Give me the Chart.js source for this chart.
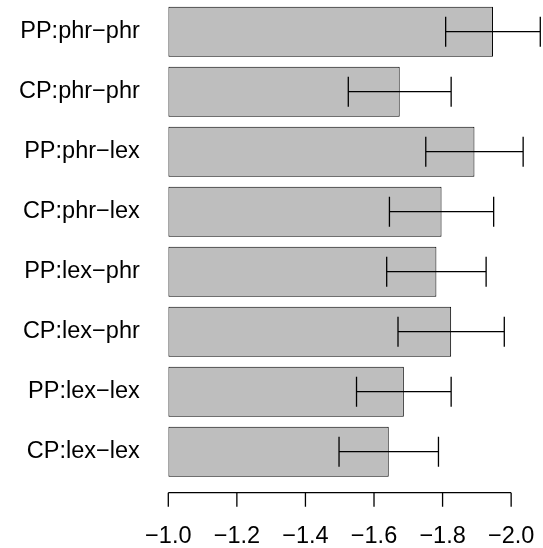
<!DOCTYPE html>
<html>
<head>
<meta charset="utf-8">
<script src="https://cdn.jsdelivr.net/npm/chart.js@4.4.0/dist/chart.umd.min.js"></script>
<style>
    html, body { margin: 0; padding: 0; background: #fff; }
    #wrap { width: 543px; height: 548px; }
</style>
</head>
<body>
<div id="wrap"><canvas id="chart"></canvas></div>
<script>
    var conditions = ['PP:phr−phr', 'CP:phr−phr', 'PP:phr−lex', 'CP:phr−lex', 'PP:lex−phr', 'CP:lex−phr', 'PP:lex−lex', 'CP:lex−lex'];
    var means = [-1.947, -1.675, -1.893, -1.797, -1.782, -1.825, -1.687, -1.643];
    var errors = [0.138, 0.150, 0.142, 0.152, 0.145, 0.155, 0.138, 0.145];
    var tickValues = [-1.0, -1.2, -1.4, -1.6, -1.8, -2.0];
    var barBase = -1.0;

    var fontFamily = '"Liberation Sans", Arial, Helvetica, sans-serif';

    // whiskers drawn on top of the bars
    var errorBarPlugin = {
        id: 'errorBars',
        afterDatasetsDraw: function (chart) {
            var ctx = chart.ctx;
            var x = chart.scales.x;
            var meta = chart.getDatasetMeta(0);
            ctx.save();
            ctx.strokeStyle = '#000';
            ctx.lineWidth = 1.3;
            meta.data.forEach(function (bar, i) {
                var p = bar.getProps(['y', 'height'], true);
                var lo = x.getPixelForValue(means[i] + errors[i]);
                var hi = x.getPixelForValue(means[i] - errors[i]);
                var cap = p.height * 0.3;
                ctx.beginPath();
                ctx.moveTo(lo, p.y);
                ctx.lineTo(hi, p.y);
                ctx.moveTo(lo, p.y - cap);
                ctx.lineTo(lo, p.y + cap);
                ctx.moveTo(hi, p.y - cap);
                ctx.lineTo(hi, p.y + cap);
                ctx.stroke();
            });
            ctx.restore();
        }
    };

    // R style axis: line only between first and last tick, set off below the bars
    var axisPlugin = {
        id: 'rAxis',
        afterDraw: function (chart) {
            var ctx = chart.ctx;
            var x = chart.scales.x;
            var y0 = chart.chartArea.bottom + 11;
            var x1 = x.getPixelForValue(tickValues[0]);
            var x2 = x.getPixelForValue(tickValues[tickValues.length - 1]);
            ctx.save();
            ctx.strokeStyle = '#000';
            ctx.lineWidth = 1.3;
            ctx.beginPath();
            ctx.moveTo(x1, y0);
            ctx.lineTo(x2, y0);
            tickValues.forEach(function (v) {
                var px = x.getPixelForValue(v);
                ctx.moveTo(px, y0);
                ctx.lineTo(px, y0 + 14);
            });
            ctx.stroke();
            ctx.restore();
        }
    };

    function noPadding(scale) {
        scale.paddingLeft = 0;
        scale.paddingRight = 0;
        scale.paddingTop = 0;
        scale.paddingBottom = 0;
    }

    new Chart(document.getElementById('chart'), {
        type: 'bar',
        data: {
            labels: conditions,
            datasets: [{
                data: means.map(function (v) { return [barBase, v]; }),
                backgroundColor: '#bebebe',
                borderColor: '#000',
                borderWidth: 1,
                borderSkipped: false,
                barPercentage: 50 / 60,
                categoryPercentage: 1
            }]
        },
        options: {
            indexAxis: 'y',
            animation: false,
            responsive: true,
            maintainAspectRatio: false,
            layout: { padding: { top: 1.7, right: 1, bottom: 0, left: 0 } },
            plugins: {
                legend: { display: false },
                tooltip: { enabled: false }
            },
            scales: {
                x: {
                    type: 'linear',
                    reverse: true,
                    min: -2.09,
                    max: -1.0,
                    grid: { display: false, drawTicks: false },
                    border: { display: false },
                    afterBuildTicks: function (scale) {
                        scale.ticks = tickValues.map(function (v) { return { value: v }; });
                    },
                    afterFit: function (scale) {
                        scale.height = 66.3;
                        noPadding(scale);
                    },
                    ticks: {
                        autoSkip: false,
                        maxRotation: 0,
                        padding: 40.5,
                        color: '#000',
                        font: { family: fontFamily, size: 23.5 },
                        callback: function (v) { return v.toFixed(1).replace('-', '−'); }
                    }
                },
                y: {
                    grid: { display: false, drawTicks: false },
                    border: { display: false },
                    afterFit: function (scale) {
                        scale.width = 168.3;
                        noPadding(scale);
                    },
                    ticks: {
                        padding: 28.5,
                        color: '#000',
                        font: { family: fontFamily, size: 23.5 }
                    }
                }
            }
        },
        plugins: [errorBarPlugin, axisPlugin]
    });
</script>
</body>
</html>
